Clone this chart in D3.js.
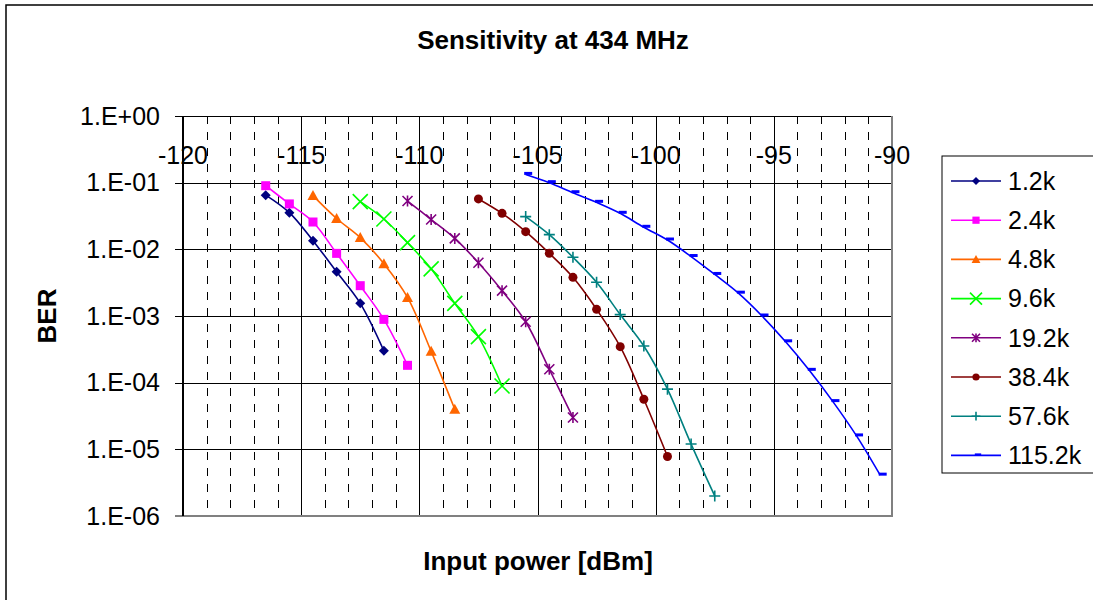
<!DOCTYPE html>
<html>
<head>
<meta charset="utf-8">
<script src="https://cdn.jsdelivr.net/npm/d3@7"></script>
<style>
  body { margin: 0; background: #fff; }
  text { font-family: "Liberation Sans", Arial, sans-serif; fill: #000; }
</style>
</head>
<body>
<div id="chart"></div>
<script>
// axis settings
const xTicks = [-120, -115, -110, -105, -100, -95, -90];
const yTicks = [1, 1e-1, 1e-2, 1e-3, 1e-4, 1e-5, 1e-6];
const yTickLabels = ["1.E+00", "1.E-01", "1.E-02", "1.E-03", "1.E-04", "1.E-05", "1.E-06"];

// series
const seriesNames = ["1.2k", "2.4k", "4.8k", "9.6k", "19.2k", "38.4k", "57.6k", "115.2k"];
const seriesColors = ["#000080", "#ff00ff", "#ff6600", "#00ff00", "#800080", "#800000", "#008080", "#0000ff"];
const seriesMarkers = ["diamond", "square", "triangle", "x", "asterisk", "circle", "plus", "dash"];

const p12 = [-116.5, -115.5, -114.5, -113.5, -112.5, -111.5];
const ber12 = [0.065, 0.0355, 0.0135, 0.0046, 0.00155, 0.0003];
const p24 = [-116.5, -115.5, -114.5, -113.5, -112.5, -111.5, -110.5];
const ber24 = [0.09, 0.048, 0.0257, 0.0087, 0.00285, 0.00089, 0.000182];
const p48 = [-114.5, -113.5, -112.5, -111.5, -110.5, -109.5, -108.5];
const ber48 = [0.064, 0.029, 0.015, 0.0061, 0.0019, 0.000295, 0.00004];
const p96 = [-112.5, -111.5, -110.5, -109.5, -108.5, -107.5, -106.5];
const ber96 = [0.052, 0.0285, 0.0126, 0.0051, 0.00155, 0.00049, 0.000089];
const p192 = [-110.5, -109.5, -108.5, -107.5, -106.5, -105.5, -104.5, -103.5];
const ber192 = [0.053, 0.028, 0.0146, 0.0063, 0.0024, 0.00082, 0.000159, 0.00003];
const p384 = [-107.5, -106.5, -105.5, -104.5, -103.5, -102.5, -101.5, -100.5, -99.5];
const ber384 = [0.057, 0.0347, 0.0184, 0.0087, 0.0038, 0.00126, 0.000347, 0.0000563, 0.0000078];
const p576 = [-105.5, -104.5, -103.5, -102.5, -101.5, -100.5, -99.5, -98.5, -97.5];
const ber576 = [0.031, 0.0166, 0.0076, 0.0032, 0.00105, 0.000355, 0.00008, 0.000012, 0.000002];
const p1152 = [-105.5, -104.5, -103.5, -102.5, -101.5, -100.5, -99.5, -98.5, -97.5, -96.5, -95.5, -94.5, -93.5, -92.5, -91.5, -90.5];
const ber1152 = [0.133, 0.1, 0.0707, 0.0507, 0.0347, 0.0214, 0.0138, 0.0078, 0.0042, 0.0022, 0.001, 0.00041, 0.000153, 0.000052, 0.0000159, 0.0000041];

const seriesP = [p12, p24, p48, p96, p192, p384, p576, p1152];
const seriesBer = [ber12, ber24, ber48, ber96, ber192, ber384, ber576, ber1152];

//基础画布
const W = 1093, H = 600;
const plot = {left: 183, right: 892, top: 116, bottom: 516};

const svg = d3.select("#chart").append("svg")
    .attr("width", W)
    .attr("height", H);

// outer chart border
svg.append("rect")
    .attr("x", 6).attr("y", 5)
    .attr("width", W + 20).attr("height", H + 20)
    .attr("fill", "#fff")
    .attr("stroke", "#000")
    .attr("stroke-width", 1.5);

//比例尺
const xScale = d3.scaleLinear().domain([-120, -90]).range([plot.left, plot.right]);
const yScale = d3.scaleLog().domain([1, 1e-6]).range([plot.top, plot.bottom]);

// minor vertical gridlines (dashed)
const minorX = d3.range(-119, -90).filter(v => v % 5 !== 0);
svg.append("g").selectAll("line")
    .data(minorX).enter().append("line")
    .attr("x1", d => Math.round(xScale(d)) + 0.5)
    .attr("x2", d => Math.round(xScale(d)) + 0.5)
    .attr("y1", plot.top).attr("y2", plot.bottom)
    .attr("stroke", "#000")
    .attr("stroke-dasharray", "8,8");

// major gridlines
svg.append("g").selectAll("line")
    .data(xTicks.slice(1, -1)).enter().append("line")
    .attr("x1", d => Math.round(xScale(d)) + 0.5)
    .attr("x2", d => Math.round(xScale(d)) + 0.5)
    .attr("y1", plot.top).attr("y2", plot.bottom)
    .attr("stroke", "#000");

svg.append("g").selectAll("line")
    .data(yTicks.slice(0, -1)).enter().append("line")
    .attr("x1", plot.left - 8).attr("x2", plot.right)
    .attr("y1", d => Math.round(yScale(d)) + 0.5)
    .attr("y2", d => Math.round(yScale(d)) + 0.5)
    .attr("stroke", "#000");

// plot border (right / bottom grey)
svg.append("path")
    .attr("d", `M${plot.right},${plot.top}V${plot.bottom}H${plot.left}`)
    .attr("fill", "none")
    .attr("stroke", "#808080")
    .attr("stroke-width", 2);

// y axis line + bottom tick
svg.append("line")
    .attr("x1", plot.left).attr("x2", plot.left)
    .attr("y1", plot.top).attr("y2", plot.bottom)
    .attr("stroke", "#000").attr("stroke-width", 2);
svg.append("line")
    .attr("x1", plot.left - 8).attr("x2", plot.left)
    .attr("y1", plot.bottom).attr("y2", plot.bottom)
    .attr("stroke", "#000");

// x axis tick labels (axis sits at the top)
svg.append("g").selectAll("text")
    .data(xTicks).enter().append("text")
    .attr("x", d => xScale(d))
    .attr("y", 164)
    .attr("text-anchor", "middle")
    .style("font-size", "25px")
    .text(d => String(d));

// y axis tick labels
svg.append("g").selectAll("text")
    .data(yTicks).enter().append("text")
    .attr("x", 160)
    .attr("y", d => yScale(d))
    .attr("dy", "0.35em")
    .attr("text-anchor", "end")
    .style("font-size", "25px")
    .text((d, i) => yTickLabels[i]);

// titles
svg.append("text")
    .attr("x", 553).attr("y", 49)
    .attr("text-anchor", "middle")
    .style("font-size", "26px").style("font-weight", "bold")
    .text("Sensitivity at 434 MHz");

svg.append("text")
    .attr("x", 538).attr("y", 570)
    .attr("text-anchor", "middle")
    .style("font-size", "26px").style("font-weight", "bold")
    .text("Input power [dBm]");

svg.append("text")
    .attr("transform", "translate(56," + ((plot.top + plot.bottom) / 2) + ") rotate(-90)")
    .attr("text-anchor", "middle")
    .style("font-size", "26px").style("font-weight", "bold")
    .text("BER");

// marker drawing
function drawMarker(g, type, color, s) {
    if (type === "diamond") {
        g.append("path").attr("d", `M0,${-5*s}L${5*s},0L0,${5*s}L${-5*s},0Z`).attr("fill", color);
    } else if (type === "square") {
        g.append("rect").attr("x", -4.5*s).attr("y", -4.5*s).attr("width", 9*s).attr("height", 9*s).attr("fill", color);
    } else if (type === "triangle") {
        g.append("path").attr("d", `M0,${-5.5*s}L${5.5*s},${4.5*s}L${-5.5*s},${4.5*s}Z`).attr("fill", color);
    } else if (type === "x") {
        g.append("path").attr("d", `M${-7.5*s},${-7.5*s}L${7.5*s},${7.5*s}M${7.5*s},${-7.5*s}L${-7.5*s},${7.5*s}`)
            .attr("stroke", color).attr("stroke-width", 1.6);
    } else if (type === "asterisk") {
        g.append("path").attr("d", `M${-5*s},${-5*s}L${5*s},${5*s}M${5*s},${-5*s}L${-5*s},${5*s}M0,${-5.5*s}L0,${5.5*s}`)
            .attr("stroke", color).attr("stroke-width", 1.6);
    } else if (type === "circle") {
        g.append("circle").attr("r", 4.5*s).attr("fill", color);
    } else if (type === "plus") {
        g.append("path").attr("d", `M${-5.5*s},0L${5.5*s},0M0,${-5.5*s}L0,${5.5*s}`)
            .attr("stroke", color).attr("stroke-width", 1.6);
    } else if (type === "dash") {
        g.append("rect").attr("x", -1.5*s).attr("y", -2.5*s).attr("width", 8*s).attr("height", 3*s).attr("fill", color);
    }
}

// series lines + markers
const line = d3.line()
    .x(d => xScale(d.p))
    .y(d => yScale(d.ber))
    .curve(d3.curveCatmullRom.alpha(0.5));

const lines = svg.append("g").attr("class", "lines");
const marks = svg.append("g").attr("class", "marks");

for (let i = 0; i < seriesNames.length; i++) {
    const pts = seriesP[i].map((p, j) => ({p: p, ber: seriesBer[i][j]}));
    lines.append("path")
        .attr("d", line(pts))
        .attr("fill", "none")
        .attr("stroke", seriesColors[i])
        .attr("stroke-width", 1.6);
    pts.forEach(d => {
        const g = marks.append("g")
            .attr("transform", "translate(" + xScale(d.p) + "," + yScale(d.ber) + ")");
        drawMarker(g, seriesMarkers[i], seriesColors[i], 1);
    });
}

// legend
const legend = svg.append("g");
legend.append("rect")
    .attr("x", 942).attr("y", 156)
    .attr("width", 200).attr("height", 317)
    .attr("fill", "#fff")
    .attr("stroke", "#000");

seriesNames.forEach((name, i) => {
    const y = 181 + i * 39.2;
    legend.append("line")
        .attr("x1", 951).attr("x2", 1001)
        .attr("y1", y).attr("y2", y)
        .attr("stroke", seriesColors[i]).attr("stroke-width", 1.6);
    const g = legend.append("g").attr("transform", "translate(976," + y + ")");
    drawMarker(g, seriesMarkers[i], seriesColors[i], 0.8);
    legend.append("text")
        .attr("x", 1008).attr("y", y)
        .attr("dy", "0.35em")
        .style("font-size", "25px")
        .text(name);
});
</script>
</body>
</html>
